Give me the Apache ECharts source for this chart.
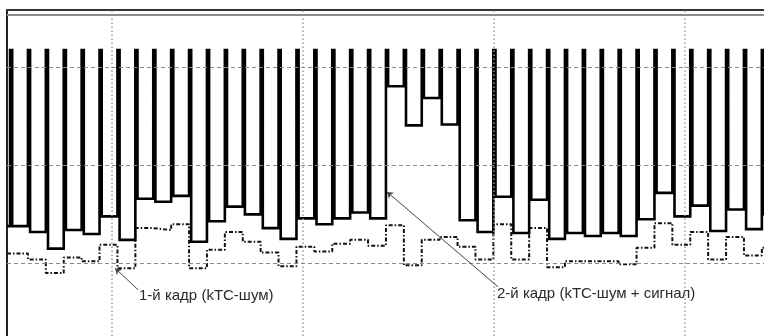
<!DOCTYPE html>
<html><head><meta charset="utf-8">
<style>html,body{margin:0;padding:0;background:#fff}#c{width:764px;height:336px}</style>
<script src="https://cdn.jsdelivr.net/npm/echarts@6/dist/echarts.min.js"></script>
</head><body><div id="c"></div>
<script>
// --- data (signal levels in divisions, time in pixel-clock periods) ---
const resetLevel = 2.18;
const frame2Start = 0.38;
const frame2Levels = [0.38,0.32,0.15,0.34,0.30,0.48,0.24,0.66,0.63,0.69,
  0.22,0.43,0.58,0.50,0.36,0.25,0.46,0.40,0.46,0.52,
  0.46,1.81,1.41,1.69,1.42,0.44,0.32,0.68,0.31,0.65,
  0.25,0.31,0.28,0.31,0.28,0.45,0.72,0.48,0.59,0.33,
  0.55,0.35,0.49];
const frame1Start = 0.10;
const frame1Levels = [0.10,0.04,-0.10,0.06,0.02,0.19,-0.05,0.36,0.34,0.40,
  -0.05,0.14,0.32,0.22,0.11,-0.03,0.17,0.12,0.20,0.24,
  0.18,0.39,-0.02,0.24,0.27,0.17,0.04,0.40,0.04,0.36,
  -0.04,0.02,0.02,0.02,-0.01,0.16,0.41,0.19,0.32,0.04,
  0.27,0.08,0.16];
const timeGridTicks = [5.70, 16.37, 27.04, 37.71];
const levelGridTicks = [0, 1, 2];
const innerTopRule = 2.54;
const label1 = '1-й кадр (kTC-шум)';
const label2 = '2-й кадр (kTC-шум + сигнал)';
const arrow1 = [[7.15, -0.27], [5.87, -0.05]];
const arrow2 = [[27.26, -0.24], [21.06, 0.73]];
const xMin = -0.17, xMax = 42.12, yMin = -0.743, yMax = 2.59;
const pulseWidth = 0.12;

function pulseTrain(start, levels, top) {
  const pts = [[xMin, start]]; let prev = start;
  levels.forEach((L, i) => { pts.push([i, prev], [i, top], [i + pulseWidth, top], [i + pulseWidth, L]); prev = L; });
  pts.push([xMax, prev]); return pts;
}
function stepTrain(start, levels) {
  const pts = [[xMin, start]]; let prev = start;
  levels.forEach((L, i) => { pts.push([i, prev], [i, L]); prev = L; });
  pts.push([xMax, prev]); return pts;
}

const chart = echarts.init(document.getElementById('c'), null, {renderer: 'canvas'});
chart.setOption({
  animation: false,
  backgroundColor: '#ffffff',
  grid: {left: 7, right: 0, top: 10, bottom: 0},
  xAxis: {type: 'value', min: xMin, max: xMax, position: 'top',
    axisLine: {show: true, onZero: false, lineStyle: {color: '#333', width: 2}},
    axisTick: {show: false}, axisLabel: {show: false}, splitLine: {show: false}},
  yAxis: {type: 'value', min: yMin, max: yMax,
    axisLine: {show: true, onZero: false, lineStyle: {color: '#222', width: 2}},
    axisTick: {show: false}, axisLabel: {show: false}, splitLine: {show: false}},
  series: [
    {type: 'line', data: [], z: 1, silent: true,
      markLine: {silent: true, symbol: ['none', 'none'], label: {show: false},
        data: [
          ...timeGridTicks.map(v => ({xAxis: v, lineStyle: {color: '#9a9a9a', width: 1.5, type: [1.5, 2.5]}})),
          ...levelGridTicks.map(v => ({yAxis: v, lineStyle: {color: '#8a8a8a', width: 1.2, type: [4, 3]}})),
          {yAxis: innerTopRule, lineStyle: {color: '#8c8c8c', width: 2, type: 'solid'}}
        ]}},
    {type: 'line', data: stepTrain(frame1Start, frame1Levels), z: 3, symbol: 'none',
      lineStyle: {color: '#111', width: 2, type: [4, 2, 1.5, 2]}},
    {type: 'line', data: pulseTrain(frame2Start, frame2Levels, resetLevel), z: 4, symbol: 'none',
      lineStyle: {color: '#000', width: 2.6, join: 'miter'}},
    {type: 'line', data: [], z: 5, silent: true,
      markLine: {silent: true, symbol: ['none', 'arrow'], symbolSize: 6, label: {show: false},
        lineStyle: {color: '#444', width: 1, type: 'solid'},
        data: [
          [{coord: arrow1[0]}, {coord: arrow1[1]}],
          [{coord: arrow2[0]}, {coord: arrow2[1]}]
        ]}}
  ],
  graphic: [
    {type: 'text', left: 139, top: 288, style: {text: label1, font: '15px "Liberation Sans", Arial, sans-serif', fill: '#2a2a2a'}},
    {type: 'text', left: 497, top: 286, style: {text: label2, font: '15px "Liberation Sans", Arial, sans-serif', fill: '#2a2a2a'}}
  ]
});
</script>
</body></html>
